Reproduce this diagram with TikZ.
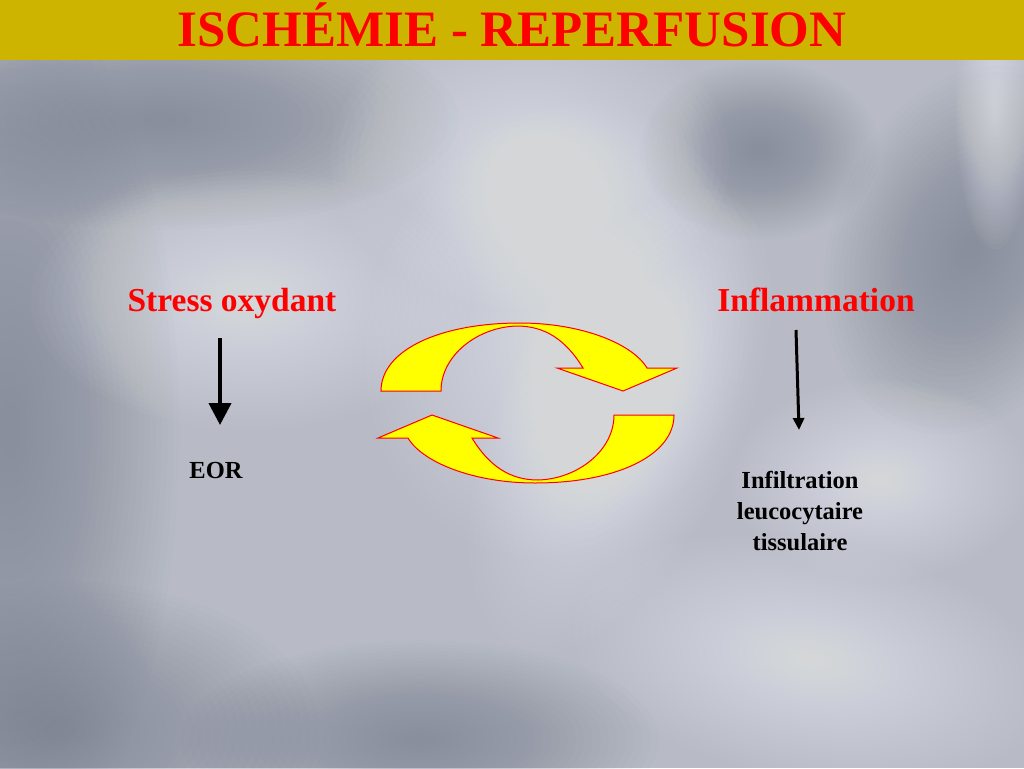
\documentclass[tikz,border=0pt]{standalone}
\usepackage{fontspec}
\setmainfont{Liberation Serif}
\usetikzlibrary{arrows.meta}
\definecolor{titlebar}{RGB}{204,180,0}
\definecolor{bgbase}{RGB}{184,187,197}
\definecolor{bgdark}{RGB}{118,124,143}
\definecolor{bglight}{RGB}{244,245,247}
\definecolor{titlered}{RGB}{255,0,0}
\definecolor{cyclefill}{RGB}{255,255,0}
\newcommand\softblob[6]{%
  \foreach \k in {1,...,28}{
    \fill[#5, opacity=0.03, rotate around={#6:(#1,#2)}] (#1,#2) ellipse [x radius={#3pt*(1.03-\k/29)}, y radius={#4pt*(1.03-\k/29)}];
  }}
\tikzset{
  heading/.style={text=titlered, font=\bfseries\fontsize{33.5}{36}\selectfont, anchor=base, inner sep=0pt},
  result/.style={text=black, font=\bfseries\fontsize{24.5}{31}\selectfont, anchor=base, inner sep=0pt, align=center},
  cyclearrow/.style={fill=cyclefill, draw=red, line width=1pt, line join=miter},
}
\begin{document}
\begin{tikzpicture}[x=1pt,y=-1pt]
\useasboundingbox (0,0) rectangle (1024,768);
% background
\fill[bgbase] (0,0) rectangle (1024,768);
\begin{scope}
\clip (0,60) rectangle (1024,768);
\softblob{10}{430}{170}{440}{bgdark}{0}
\softblob{160}{120}{300}{110}{bgdark}{0}
\softblob{970}{250}{140}{190}{bgdark}{-20}
\softblob{60}{730}{260}{150}{bgdark}{0}
\softblob{420}{740}{240}{100}{bgdark}{0}
\softblob{760}{150}{120}{90}{bgdark}{0}
\softblob{530}{160}{200}{150}{bglight}{0}
\softblob{560}{330}{190}{230}{bglight}{-20}
\softblob{620}{420}{120}{250}{bglight}{-25}
\softblob{810}{660}{240}{120}{bglight}{-10}
\softblob{250}{300}{220}{130}{bglight}{0}
\softblob{995}{110}{40}{140}{bglight}{0}
\softblob{880}{480}{150}{100}{bglight}{0}
\end{scope}
% title bar
\fill[titlebar] (0,0) rectangle (1024,60);
\node[text=titlered, font=\bfseries\fontsize{51}{54}\selectfont, anchor=base, inner sep=0pt] (title) at (512,47) {ISCHÉMIE - REPERFUSION};
% headings
\node[heading] (stress) at (232,311) {Stress oxydant};
\node[heading] (inflam) at (816,311) {Inflammation};
\node[result] (eor) at (216,478) {EOR};
\node[result, anchor=base] (infil) at (800,550) {Infiltration\\leucocytaire\\tissulaire};
% arrows
\coordinate (a1s) at (220,338);
\coordinate (a1e) at (220,425);
\draw[line width=4pt, -{Triangle[width=22pt,length=22pt]}] (a1s) -- (a1e);
\coordinate (a2s) at (796,330);
\coordinate (a2e) at (799,430);
\draw[line width=3pt, -{Triangle[width=11pt,length=12pt]}] (a2s) -- (a2e);
% cycle arrows
\def\cyclepath{(381,391) .. controls (381,350) and (440,323) .. (520,323) .. controls (580,323) and (632,343) .. (647,368) -- (677,368) -- (623,391) -- (557,368) -- (583,368) .. controls (566,340) and (545,326) .. (517,326) .. controls (478,327) and (441,355) .. (441,391) -- cycle}
\draw[cyclearrow] \cyclepath;
\draw[cyclearrow, rotate around={180:(527.5,403)}] \cyclepath;
\end{tikzpicture}
\end{document}
